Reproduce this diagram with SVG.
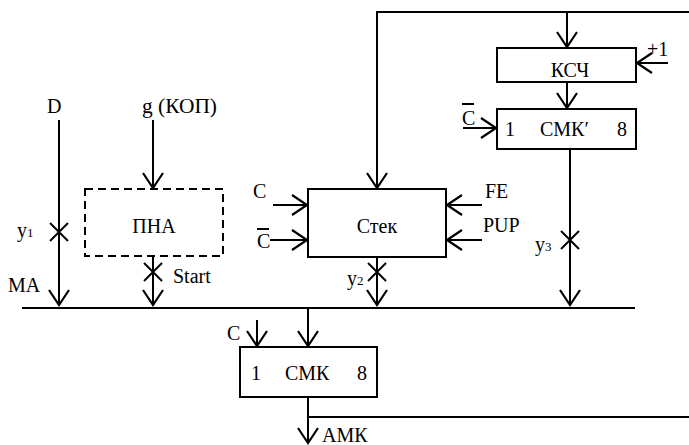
<svg xmlns="http://www.w3.org/2000/svg" width="689" height="445" viewBox="0 0 689 445">
<defs>
<marker id="ah" viewBox="-18 -12 20 24" refX="0" refY="0" markerWidth="20" markerHeight="24" markerUnits="userSpaceOnUse" orient="auto">
<path d="M-15,-10 L0,0 L-15,10" fill="none" stroke="#000" stroke-width="2.2"/>
</marker>
</defs>
<style>
text{font-family:"Liberation Serif","Times New Roman",serif;font-size:20px;fill:#000}
.sub{font-size:13px}
.box{fill:#fff;stroke:#000;stroke-width:2}
.dash{fill:none;stroke:#000;stroke-width:2;stroke-dasharray:8 5}
.w{fill:none;stroke:#000;stroke-width:2}
.a{fill:none;stroke:#000;stroke-width:2;marker-end:url(#ah)}
.m{text-anchor:middle}
</style>
<g id="connectors">
<path class="a" d="M59,120 V305"/>
<path class="a" d="M153,120 V188"/>
<path class="a" d="M153,256 V305"/>
<path class="a" d="M689,12 H377 V188"/>
<path class="a" d="M567,12 V47"/>
<path class="a" d="M567,82 V108"/>
<path class="a" d="M668,63 H637"/>
<path class="a" d="M463,128 H496"/>
<path class="a" d="M570,149 V305"/>
<path class="a" d="M273,205 H307"/>
<path class="a" d="M270,240 H307"/>
<path class="a" d="M482,205 H447"/>
<path class="a" d="M482,240 H447"/>
<path class="a" d="M377,257 V305"/>
<path class="w" d="M22,308 H635"/>
<path class="a" d="M308,308 V346"/>
<path class="a" d="M257,320 V346"/>
<path class="a" d="M308,397 V443"/>
<path class="w" d="M308,417 H689"/>
<path class="w" d="M50,223 L68,241 M68,223 L50,241"/>
<path class="w" d="M144,263 L162,281 M162,263 L144,281"/>
<path class="w" d="M368,263 L386,281 M386,263 L368,281"/>
<path class="w" d="M561,231 L579,249 M579,231 L561,249"/>
</g>
<g id="labels">
<text x="47" y="113">D</text>
<text x="142" y="113" textLength="75" lengthAdjust="spacingAndGlyphs">g (КОП)</text>
<text x="17" y="237">y<tspan class="sub">1</tspan></text>
<text x="8" y="292">MA</text>
<text x="173" y="283">Start</text>
<text x="253" y="198">C</text>
<text x="257" y="248">C</text>
<path class="w" d="M257,229 H269" stroke-width="1.5"/>
<text x="485" y="198">FE</text>
<text x="483" y="232">PUP</text>
<text x="347" y="285">y<tspan class="sub">2</tspan></text>
<text x="535" y="251">y<tspan class="sub">3</tspan></text>
<text x="647" y="56">+1</text>
<text x="462" y="125">C</text>
<path class="w" d="M462,104 H474" stroke-width="1.5"/>
<text x="227" y="340">C</text>
<text x="322" y="442">AMК</text>
</g>
<g id="pna">
<rect class="dash" x="85" y="189" width="138" height="67"/>
<text class="m" x="154" y="233">ПНА</text>
</g>
<g id="stack">
<rect class="box" x="308" y="189" width="138" height="68"/>
<text class="m" x="377" y="233">Стек</text>
</g>
<g id="ksch">
<rect class="box" x="497" y="48" width="139" height="34"/>
<text class="m" x="570" y="77" font-size="21">КСЧ</text>
</g>
<g id="smk-prime">
<rect class="box" x="497" y="109" width="139" height="40"/>
<text x="505" y="136">1</text>
<text x="540" y="136">СМК′</text>
<text x="617" y="136">8</text>
</g>
<g id="smk">
<rect class="box" x="240" y="347" width="137" height="50"/>
<text x="251" y="380">1</text>
<text x="285" y="380">СМК</text>
<text x="357" y="380">8</text>
</g>
</svg>
